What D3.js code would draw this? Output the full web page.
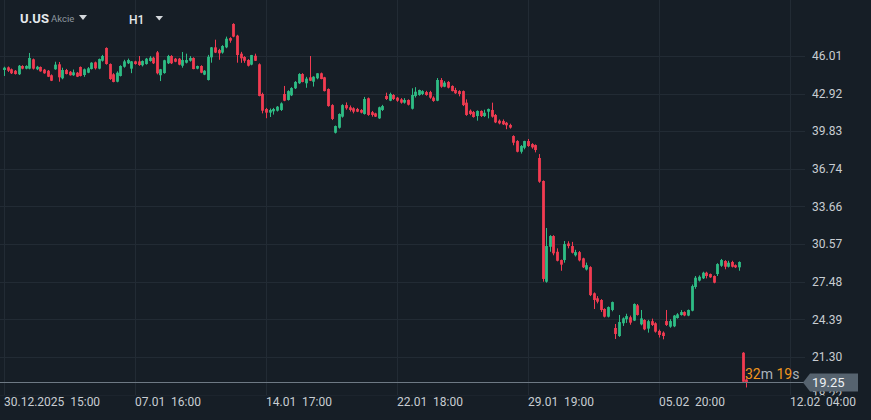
<!DOCTYPE html>
<html><head><meta charset="utf-8">
<script src="https://cdn.jsdelivr.net/npm/d3@7"></script>
<style>
html,body{margin:0;padding:0;background:#161e26;}
svg{display:block;font-family:Roboto,"Noto Sans",sans-serif;}
</style></head>
<body>
<svg id="chart" width="871" height="420"></svg>
<script>
// ---- data ----
const symbol = "U.US";
const symbolType = "Akcie";
const timeframe = "H1";
// hourly candles [open, high, low, close]
const ohlc = [
[44.86,45.13,44.37,45.05],[45.08,45.15,44.70,44.80],[44.92,44.98,44.53,44.59],[44.80,44.86,44.49,44.53],
[44.51,45.27,44.45,45.21],[45.19,45.25,44.92,44.97],[44.97,45.25,44.92,45.19],[44.97,46.26,44.92,45.85],
[45.74,45.80,44.90,44.97],[44.92,45.20,44.85,45.13],[45.11,45.15,44.72,44.75],[44.89,44.95,44.55,44.59],
[44.80,44.86,44.28,44.31],[44.43,44.50,43.95,43.98],[44.92,45.54,44.88,45.30],[45.33,45.52,43.90,44.26],
[44.18,45.05,44.10,44.86],[44.86,44.95,44.50,44.53],[44.72,44.78,44.40,44.43],[44.43,44.90,44.38,44.67],
[44.64,44.70,44.28,44.31],[45.11,45.15,44.33,44.37],[44.45,44.98,44.30,44.92],[44.64,45.10,44.60,45.00],
[44.94,45.50,44.90,45.46],[45.49,45.55,44.90,45.00],[44.97,45.80,44.92,45.76],[45.62,46.10,45.55,46.01],
[46.67,46.72,45.30,45.35],[45.35,45.40,44.05,44.12],[44.51,44.60,43.85,43.88],[43.90,44.75,43.85,44.64],
[44.37,45.25,44.33,45.19],[45.13,45.70,45.05,45.57],[45.41,45.80,45.35,45.68],[44.97,45.60,44.60,45.57],
[45.57,45.62,45.30,45.35],[45.57,46.01,45.20,45.27],[45.25,45.65,45.15,45.60],[45.35,45.85,45.30,45.79],
[45.60,46.00,45.55,45.87],[45.87,45.95,45.35,45.41],[46.31,46.42,44.50,44.59],[44.43,44.95,43.95,44.92],
[44.61,45.70,44.55,45.66],[45.41,46.10,45.35,46.01],[46.01,46.08,45.35,45.41],[45.79,45.85,45.50,45.54],
[45.79,45.85,45.25,45.30],[45.21,46.34,45.05,45.68],[45.46,46.20,45.40,45.68],[45.62,46.00,45.55,45.85],
[45.85,45.90,44.92,44.94],[44.97,45.22,44.92,45.19],[45.19,45.25,44.60,44.64],[44.48,44.85,44.44,44.80],
[44.04,46.10,44.00,45.95],[45.90,46.75,45.46,46.72],[46.72,47.35,46.25,46.29],[46.50,46.60,45.70,46.23],
[46.29,46.90,46.20,46.83],[46.72,47.60,46.65,47.43],[47.48,47.55,47.10,47.27],[48.64,48.70,47.55,47.60],
[47.68,47.75,45.46,46.09],[46.20,46.35,45.45,45.82],[45.93,46.00,45.45,45.62],[45.68,45.75,45.15,45.21],
[45.30,46.10,45.25,46.09],[46.03,46.20,45.60,45.62],[45.33,45.40,42.70,42.73],[42.89,43.00,41.30,41.52],
[41.66,41.75,40.90,41.36],[41.36,41.70,41.00,41.58],[41.47,41.75,41.20,41.66],[41.52,41.90,41.45,41.85],
[41.58,42.20,41.50,42.12],[42.89,43.55,42.30,42.34],[42.40,43.20,42.35,43.13],[42.78,43.45,42.72,43.38],
[43.36,43.95,43.30,43.88],[43.77,44.60,43.72,44.53],[44.53,44.60,43.85,43.88],[43.77,44.30,43.40,44.15],
[44.26,46.01,43.95,43.98],[43.90,44.35,43.50,44.31],[44.18,44.60,44.10,44.59],[44.59,44.65,44.10,44.12],
[44.26,44.30,43.10,43.13],[43.30,43.35,41.85,41.90],[41.98,42.05,40.75,40.84],[39.71,40.30,39.65,40.26],
[40.12,41.30,40.05,41.25],[41.03,42.05,40.95,41.98],[41.98,42.20,41.60,41.72],[41.80,41.95,41.45,41.58],
[41.72,41.80,41.30,41.44],[41.66,41.75,41.40,41.44],[41.58,41.65,41.30,41.36],[41.25,42.65,41.20,42.48],
[42.54,42.60,41.10,41.17],[41.40,41.50,41.03,41.17],[41.30,41.35,41.00,41.03],[40.89,41.85,40.85,41.80],
[41.58,42.00,41.50,41.90],[42.73,43.00,42.40,42.48],[42.34,43.00,42.30,42.89],[42.81,42.88,42.40,42.48],
[42.59,42.65,42.25,42.34],[42.45,42.55,42.10,42.18],[42.18,42.55,42.10,42.40],[42.40,42.45,41.95,42.01],
[41.68,43.36,41.62,42.81],[42.73,43.45,42.60,43.08],[42.81,43.25,42.75,43.22],[42.89,43.20,42.80,43.13],
[43.05,43.15,42.75,42.81],[43.05,43.15,42.50,42.59],[42.59,42.70,42.25,42.32],[42.34,44.20,42.30,44.04],
[44.04,44.20,43.40,43.49],[43.49,43.95,43.45,43.82],[43.88,43.95,43.35,43.41],[43.55,43.60,43.10,43.13],
[43.22,43.40,42.90,42.95],[43.13,43.20,42.70,42.89],[43.13,43.18,41.90,41.98],[42.18,42.45,41.10,41.17],
[41.52,41.62,41.15,41.25],[41.41,41.50,40.95,41.00],[41.08,41.55,40.70,41.50],[41.50,41.55,41.00,41.08],
[41.08,41.60,41.00,41.35],[41.44,41.70,40.89,41.66],[41.58,42.18,40.95,41.03],[41.17,41.25,40.50,40.56],
[40.70,40.80,40.40,40.48],[40.67,40.80,40.35,40.40],[40.53,40.60,40.00,40.32],[40.35,40.45,40.05,40.13],
[39.44,39.50,38.68,38.89],[39.03,39.10,38.10,38.15],[38.15,38.70,38.00,38.62],[38.48,39.05,38.35,39.03],
[39.03,39.20,38.55,38.62],[38.78,38.85,38.40,38.51],[38.70,38.75,38.10,38.29],[37.64,37.96,35.60,35.69],
[35.75,35.80,27.48,27.71],[27.48,31.89,27.40,30.41],[30.35,31.30,29.94,31.23],[31.23,31.30,29.65,29.81],
[29.94,30.22,29.15,29.20],[29.26,29.30,28.38,28.88],[29.26,30.82,29.04,30.57],[30.62,30.80,30.22,30.41],
[30.41,30.75,29.80,29.86],[29.65,30.10,29.55,29.91],[29.91,30.00,29.15,29.23],[29.40,29.45,28.60,28.66],
[28.48,29.05,28.40,28.84],[28.68,28.75,26.30,26.38],[26.53,26.60,25.24,25.98],[26.12,26.30,25.70,25.84],
[25.98,26.05,25.00,25.16],[25.24,25.30,24.55,24.61],[24.61,25.45,24.55,25.40],[25.16,25.85,25.05,25.81],
[23.68,24.01,22.78,23.19],[23.02,24.75,22.95,24.17],[24.07,24.55,23.85,24.47],[24.40,24.85,24.10,24.66],
[24.56,24.70,23.95,24.12],[24.29,25.70,24.25,25.65],[25.54,25.65,24.70,24.75],[23.98,25.16,23.90,24.47],
[24.34,24.40,23.50,23.57],[23.63,24.35,23.30,24.24],[24.24,24.45,23.85,23.93],[24.07,24.15,23.30,23.38],
[23.44,23.55,22.90,23.11],[23.30,23.40,22.75,23.02],[24.25,25.16,23.85,23.93],[23.79,24.40,23.70,24.25],
[23.82,24.75,23.75,24.70],[24.50,24.90,24.45,24.80],[24.75,25.15,24.70,24.99],[24.99,25.05,24.65,24.71],
[24.70,25.20,24.65,25.16],[25.10,27.25,25.05,27.12],[27.05,27.95,26.90,27.81],[27.57,28.00,27.50,27.89],
[27.76,28.30,27.70,28.22],[28.22,28.30,27.75,27.95],[28.11,28.15,27.80,27.84],[27.95,28.00,27.35,27.40],
[28.11,29.00,27.95,28.93],[28.79,29.35,28.70,29.26],[29.18,29.25,28.50,28.71],[28.71,29.20,28.65,29.04],
[29.10,29.20,28.65,28.71],[28.84,28.90,28.60,28.66],[28.66,29.15,28.38,29.10],[21.65,21.70,19.27,19.27],
[19.45,19.55,18.80,19.25]
];
const priceTicks = [46.01, 42.92, 39.83, 36.74, 33.66, 30.57, 27.48, 24.39, 21.30, 18.22];
const timeTickIndex = [0, 36, 72, 108, 144, 180, 216];
const timeTickLabels = ["30.12.2025  15:00","07.01  16:00","14.01  17:00","22.01  18:00","29.01  19:00","05.02  20:00","12.02  04:00"];
const lastPrice = 19.25;
const countdown = [["32","m"],[" 19","s"]];

// ---- style ----
const BG = "#161e26", GRID = "#222b34", UP = "#2ebd85", DOWN = "#f23b52";
const TXT = "#c8cdd2";

const svg = d3.select("#chart");
svg.append("rect").attr("width",871).attr("height",420).attr("fill",BG);

const x = d3.scaleLinear().domain([0, 36]).range([4, 135]);
const y = d3.scaleLinear().domain([21.30, 46.01]).range([357, 56]);
const plotRight = 805, plotBottom = 395;

// grid
const grid = svg.append("g").attr("shape-rendering","crispEdges");
grid.selectAll(".hg").data(priceTicks).join("line")
  .attr("x1",0).attr("x2",plotRight)
  .attr("y1",d=>Math.round(y(d))+0.5).attr("y2",d=>Math.round(y(d))+0.5)
  .attr("stroke",GRID).attr("stroke-width",1);
grid.selectAll(".vg").data(timeTickIndex).join("line")
  .attr("x1",d=>Math.round(x(d))+0.5).attr("x2",d=>Math.round(x(d))+0.5)
  .attr("y1",0).attr("y2",plotBottom)
  .attr("stroke",GRID).attr("stroke-width",1);

// candles
const cg = svg.append("g");
const bw = 2.8;
const cand = cg.selectAll("g.c").data(ohlc).join("g").attr("class","c");
cand.append("line")
  .attr("x1",(d,i)=>Math.round(x(i))+0.5).attr("x2",(d,i)=>Math.round(x(i))+0.5)
  .attr("y1",d=>y(d[1])).attr("y2",d=>y(d[2]))
  .attr("stroke",d=>d[3]>=d[0]?UP:DOWN).attr("stroke-width",1);
cand.append("rect")
  .attr("x",(d,i)=>Math.round(x(i))+0.5-bw/2)
  .attr("width",bw)
  .attr("y",d=>y(Math.max(d[0],d[3])))
  .attr("height",d=>Math.max(1, Math.abs(y(d[0])-y(d[3]))))
  .attr("fill",d=>d[3]>=d[0]?UP:DOWN);

// last price line
svg.append("line").attr("x1",0).attr("x2",plotRight)
  .attr("y1",Math.round(y(lastPrice))+0.5).attr("y2",Math.round(y(lastPrice))+0.5)
  .attr("stroke","#6e7984").attr("stroke-width",1).attr("shape-rendering","crispEdges");

// price axis labels
svg.append("g").selectAll("text").data(priceTicks).join("text")
  .attr("x",812).attr("y",d=>y(d)).attr("dy","0.35em")
  .attr("font-size",12).attr("fill",TXT).text(d=>d.toFixed(2));

// countdown
const cd = svg.append("text").attr("x",745).attr("y",379).attr("font-size",14);
countdown.forEach(([num,unit])=>{
  cd.append("tspan").attr("fill","#f0961e").style("white-space","pre").text(num);
  cd.append("tspan").attr("fill","#aab3bb").text(unit);
});

// last price box
const ly = Math.round(y(lastPrice))+0.5;
svg.append("path")
  .attr("d",`M803,${ly} L810,${ly-9} L858,${ly-9} L858,${ly+9} L810,${ly+9} Z`)
  .attr("fill","#56636f");
svg.append("text").attr("x",812).attr("y",ly).attr("dy","0.35em")
  .attr("font-size",13).attr("fill","#eef1f4").text(lastPrice.toFixed(2));

// time axis band
svg.append("rect").attr("x",0).attr("y",plotBottom+0.5).attr("width",871).attr("height",420-plotBottom).attr("fill",BG);
svg.append("g").selectAll("text").data(timeTickIndex).join("text")
  .attr("x",d=>x(d)).attr("y",406)
  .attr("font-size",12).attr("fill",TXT).style("white-space","pre")
  .text((d,i)=>timeTickLabels[i]);

// header
svg.append("text").attr("x",20).attr("y",23).attr("font-size",13).attr("font-weight",700)
  .attr("fill","#e4e8ec").text(symbol);
svg.append("text").attr("x",51).attr("y",22).attr("font-size",9.5)
  .attr("fill","#8d979f").text(symbolType);
svg.append("path").attr("d","M79,15 L87,15 L83,20 Z").attr("fill","#d4d8dc");
svg.append("text").attr("x",129).attr("y",24).attr("font-size",12).attr("font-weight",500)
  .attr("fill","#e4e8ec").text(timeframe);
svg.append("path").attr("d","M155.5,16 L163,16 L159.25,20.5 Z").attr("fill","#d4d8dc");
</script>
</body></html>
